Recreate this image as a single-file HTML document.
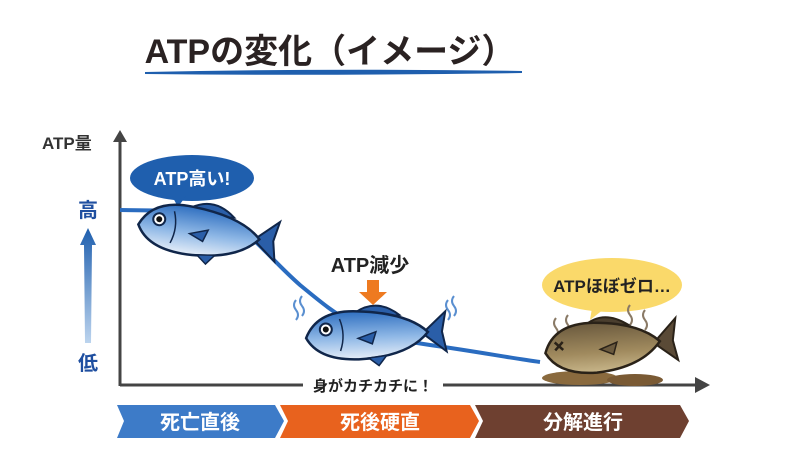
<!DOCTYPE html>
<html><head><meta charset="utf-8"><style>
html,body{margin:0;padding:0;background:#fff;}
svg{display:block;font-family:"Liberation Sans","Noto Sans CJK JP",sans-serif;}
</style></head><body>
<svg width="800" height="450" viewBox="0 0 800 450" xmlns="http://www.w3.org/2000/svg">
<defs>
<linearGradient id="up" x1="0" y1="1" x2="0" y2="0"><stop offset="0" stop-color="#bcd4ee"/><stop offset="1" stop-color="#1f5fae"/></linearGradient>
<linearGradient id="fb" x1="0" y1="0" x2="0" y2="1"><stop offset="0" stop-color="#2f6fc0"/><stop offset="0.55" stop-color="#8fb8e6"/><stop offset="1" stop-color="#e6eef8"/></linearGradient>
<linearGradient id="fr" x1="0" y1="0" x2="0" y2="1"><stop offset="0" stop-color="#6b5a3e"/><stop offset="0.6" stop-color="#a08a5e"/><stop offset="1" stop-color="#c8b68a"/></linearGradient>
<g id="fish">
<path d="M58,-2 L78,-20 L74,0 L78,20 L58,4 Z" fill="#2a5ea8" stroke="#10264a" stroke-width="2"/>
<path d="M-12,-22 Q10,-36 32,-18 L10,-15 Z" fill="#2a5ea8" stroke="#10264a" stroke-width="2"/>
<path d="M-62,2 Q-50,-26 -10,-23 Q40,-20 60,0 Q40,24 -10,25 Q-50,25 -62,2 Z" fill="url(#fb)" stroke="#10264a" stroke-width="2.5"/>
<circle cx="-42" cy="-6" r="6" fill="#fff" stroke="#10264a" stroke-width="2"/><circle cx="-42" cy="-6" r="3" fill="#111"/>
<path d="M-28,-16 Q-22,0 -28,16" fill="none" stroke="#10264a" stroke-width="1.5"/>
<path d="M-10,4 L8,-2 L4,10 Z" fill="#2a5ea8" stroke="#10264a" stroke-width="1.5"/>
<path d="M0,24 L10,32 L18,22 Z" fill="#2a5ea8" stroke="#10264a" stroke-width="1.5"/>
</g>
</defs>
<text x="330" y="63" text-anchor="middle" font-size="34" font-weight="bold" fill="#2a2222">ATPの変化（イメージ）</text>
<path d="M145,72 Q330,68 522,71 L522,73 Q330,76 145,74 Z" fill="#1f5fae"/>
<line x1="120" y1="140" x2="120" y2="386" stroke="#444" stroke-width="3"/>
<path d="M113,142 L120,130 L127,142 Z" fill="#444"/>
<line x1="120" y1="385" x2="698" y2="385" stroke="#444" stroke-width="3"/>
<path d="M695,377 L710,385 L695,393 Z" fill="#444"/>
<text x="42" y="149" font-size="17" font-weight="bold" fill="#333">ATP量</text>
<text x="88" y="217" text-anchor="middle" font-size="20" font-weight="bold" fill="#1f4fa0">高</text>
<text x="88" y="370" text-anchor="middle" font-size="20" font-weight="bold" fill="#1f4fa0">低</text>
<path d="M80,245 L88,228 L96,245 L92,245 L91,343 L85,343 L84,245 Z" fill="url(#up)"/>
<path d="M120,210 L195,211 C240,214 260,250 300,285 C340,318 360,335 430,345 C480,352 510,358 540,362" fill="none" stroke="#2a6cc0" stroke-width="4"/>
<ellipse cx="192" cy="178" rx="62" ry="23" fill="#1f5fae"/>
<path d="M172,196 L178,207 L186,196 Z" fill="#1f5fae"/>
<text x="192" y="185" text-anchor="middle" font-size="18" font-weight="bold" fill="#fff">ATP高い!</text>
<use href="#fish" transform="translate(200,231) rotate(8)"/>
<text x="370" y="272" text-anchor="middle" font-size="20" font-weight="bold" fill="#222">ATP減少</text>
<path d="M367,280 L379,280 L379,292 L387,292 L373,305 L359,292 L367,292 Z" fill="#ee7a20"/>
<use href="#fish" transform="translate(368,334) rotate(-2)"/>
<g fill="none" stroke="#5a8fd0" stroke-width="2">
<path d="M296,300 q-4,5 0,10 q4,5 0,10"/><path d="M302,296 q-4,5 0,10 q4,5 0,10"/>
<path d="M448,300 q-4,5 0,10 q4,5 0,10"/><path d="M454,296 q-4,5 0,10 q4,5 0,10"/>
</g>
<ellipse cx="612" cy="285" rx="70" ry="27" fill="#fad96a"/>
<path d="M592,308 L590,320 L604,309 Z" fill="#fad96a"/>
<text x="612" y="292" text-anchor="middle" font-size="17" font-weight="bold" fill="#222">ATPほぼゼロ…</text>
<g fill="none" stroke="#8a7a66" stroke-width="2">
<path d="M556,318 q-4,5 0,10 q4,5 0,10"/><path d="M568,315 q-4,5 0,10 q4,5 0,10"/>
<path d="M630,305 q-4,5 0,10 q4,5 0,10"/><path d="M645,310 q-4,5 0,10 q4,5 0,10"/>
</g>
<ellipse cx="580" cy="378" rx="38" ry="7" fill="#8a6a3e"/>
<ellipse cx="635" cy="380" rx="28" ry="6" fill="#7a5a34"/>
<g transform="translate(605,345) rotate(-4)">
<path d="M52,-2 L72,-22 L68,0 L72,20 L52,4 Z" fill="#5a4a36" stroke="#2a2218" stroke-width="2"/>
<path d="M-20,-20 Q0,-36 24,-19 Z" fill="#4a3e2e" stroke="#2a2218" stroke-width="2"/>
<path d="M-60,4 Q-50,-25 -10,-23 Q35,-20 55,0 Q35,25 -10,27 Q-48,27 -60,4 Z" fill="url(#fr)" stroke="#2a2218" stroke-width="2.5"/>
<path d="M-50,-6 l8,8 M-42,-6 l-8,8" stroke="#2a2218" stroke-width="2.5"/>
<path d="M-5,4 L12,-2 L8,10 Z" fill="#6b5a3e" stroke="#2a2218" stroke-width="1.5"/>
</g>
<rect x="303" y="375" width="140" height="20" fill="#fff"/>
<text x="373" y="391" text-anchor="middle" font-size="15" font-weight="bold" fill="#222">身がカチカチに！</text>
<path d="M117,405 L275,405 L284,421 L275,438 L117,438 L124,421 Z" fill="#3d7bc8"/>
<path d="M280,405 L470,405 L479,421 L470,438 L280,438 L288,421 Z" fill="#e8621e"/>
<path d="M475,405 L680,405 L689,421 L680,438 L475,438 L483,421 Z" fill="#6e4030"/>
<text x="200" y="429" text-anchor="middle" font-size="20" font-weight="bold" fill="#fff">死亡直後</text>
<text x="380" y="429" text-anchor="middle" font-size="20" font-weight="bold" fill="#fff">死後硬直</text>
<text x="583" y="429" text-anchor="middle" font-size="20" font-weight="bold" fill="#fff">分解進行</text>
</svg>
</body></html>
